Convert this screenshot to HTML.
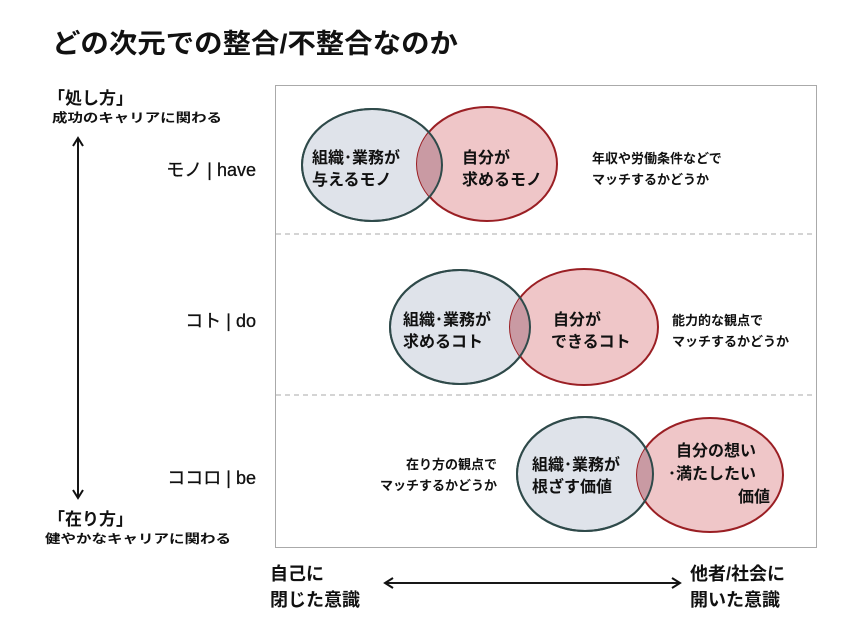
<!DOCTYPE html>
<html><head><meta charset="utf-8"><style>
html,body{margin:0;padding:0;background:#fff;}
svg{display:block;}
text{font-family:"Liberation Sans","Noto Sans CJK JP",sans-serif;fill:#111;}
</style></head><body>
<svg width="860" height="644" viewBox="0 0 860 644" xmlns="http://www.w3.org/2000/svg">
<defs>
<marker id="ah" markerWidth="12" markerHeight="12" refX="9" refY="6" orient="auto" markerUnits="userSpaceOnUse">
<path d="M1,1 L9,6 L1,11" fill="none" stroke="#111" stroke-width="2"/>
</marker>
<clipPath id="c1"><ellipse cx="372" cy="165" rx="70" ry="56"/></clipPath>
<clipPath id="c2"><ellipse cx="460" cy="327" rx="70" ry="57"/></clipPath>
<clipPath id="c3"><ellipse cx="585" cy="474" rx="68" ry="57"/></clipPath>
</defs>
<text x="52" y="53" font-size="27" font-weight="bold" textLength="406" lengthAdjust="spacingAndGlyphs">どの次元での整合/不整合なのか</text>

<rect x="275.5" y="85.5" width="541" height="462" fill="none" stroke="#aaa" stroke-width="1"/>
<line x1="276" y1="234" x2="816" y2="234" stroke="#aaa" stroke-dasharray="5,4"/>
<line x1="276" y1="395" x2="816" y2="395" stroke="#aaa" stroke-dasharray="5,4"/>

<text x="48" y="104" font-size="17" font-weight="bold">「処し方」</text>
<text x="52" y="122" font-size="12.5" font-weight="bold" textLength="170" lengthAdjust="spacingAndGlyphs">成功のキャリアに関わる</text>
<text x="48" y="525" font-size="17" font-weight="bold">「在り方」</text>
<text x="45" y="543" font-size="12.5" font-weight="bold" textLength="186" lengthAdjust="spacingAndGlyphs">健やかなキャリアに関わる</text>
<line x1="78" y1="498" x2="78" y2="138" stroke="#111" stroke-width="1.8" marker-end="url(#ah)"/>
<line x1="78" y1="138" x2="78" y2="498" stroke="#111" stroke-width="1.8" marker-end="url(#ah)"/>

<text x="256" y="176" font-size="18" text-anchor="end" stroke="#111" stroke-width="0.3">モノ | have</text>
<text x="256" y="327" font-size="18" text-anchor="end" stroke="#111" stroke-width="0.3">コト | do</text>
<text x="256" y="484" font-size="18" text-anchor="end" stroke="#111" stroke-width="0.3">ココロ | be</text>

<ellipse cx="372" cy="165" rx="70" ry="56" fill="#dfe3ea" stroke="#2f4a4a" stroke-width="2"/>
<ellipse cx="487" cy="164" rx="70" ry="57" fill="#efc6c8" stroke="#9a1f24" stroke-width="2"/>
<ellipse cx="487" cy="164" rx="70" ry="57" fill="#c99aa3" clip-path="url(#c1)"/>
<ellipse cx="372" cy="165" rx="70" ry="56" fill="none" stroke="#2f4a4a" stroke-width="2"/>
<text x="312" y="163" font-size="16" font-weight="bold">組織･業務が</text>
<text x="312" y="185" font-size="16" font-weight="bold">与えるモノ</text>
<text x="462" y="163" font-size="16" font-weight="bold">自分が</text>
<text x="462" y="185" font-size="16" font-weight="bold">求めるモノ</text>
<text x="592" y="163" font-size="13" font-weight="bold">年収や労働条件などで</text>
<text x="592" y="184" font-size="13" font-weight="bold">マッチするかどうか</text>

<ellipse cx="460" cy="327" rx="70" ry="57" fill="#dfe3ea" stroke="#2f4a4a" stroke-width="2"/>
<ellipse cx="584" cy="327" rx="74" ry="58" fill="#efc6c8" stroke="#9a1f24" stroke-width="2"/>
<ellipse cx="584" cy="327" rx="74" ry="58" fill="#c99aa3" clip-path="url(#c2)"/>
<ellipse cx="460" cy="327" rx="70" ry="57" fill="none" stroke="#2f4a4a" stroke-width="2"/>
<text x="403" y="325" font-size="16" font-weight="bold">組織･業務が</text>
<text x="403" y="347" font-size="16" font-weight="bold">求めるコト</text>
<text x="553" y="325" font-size="16" font-weight="bold">自分が</text>
<text x="551" y="347" font-size="16" font-weight="bold">できるコト</text>
<text x="672" y="325" font-size="13" font-weight="bold">能力的な観点で</text>
<text x="672" y="346" font-size="13" font-weight="bold">マッチするかどうか</text>

<ellipse cx="585" cy="474" rx="68" ry="57" fill="#dfe3ea" stroke="#2f4a4a" stroke-width="2"/>
<ellipse cx="710" cy="475" rx="73" ry="57" fill="#efc6c8" stroke="#9a1f24" stroke-width="2"/>
<ellipse cx="710" cy="475" rx="73" ry="57" fill="#c99aa3" clip-path="url(#c3)"/>
<ellipse cx="585" cy="474" rx="68" ry="57" fill="none" stroke="#2f4a4a" stroke-width="2"/>
<text x="532" y="470" font-size="16" font-weight="bold">組織･業務が</text>
<text x="532" y="492" font-size="16" font-weight="bold">根ざす価値</text>
<text x="676" y="456" font-size="16" font-weight="bold">自分の想い</text>
<text x="668" y="479" font-size="16" font-weight="bold">･満たしたい</text>
<text x="770" y="502" font-size="16" font-weight="bold" text-anchor="end">価値</text>
<text x="497" y="469" font-size="13" font-weight="bold" text-anchor="end">在り方の観点で</text>
<text x="497" y="490" font-size="13" font-weight="bold" text-anchor="end">マッチするかどうか</text>

<text x="270" y="580" font-size="18" font-weight="bold">自己に</text>
<text x="270" y="606" font-size="18" font-weight="bold">閉じた意識</text>
<text x="690" y="580" font-size="18" font-weight="bold">他者/社会に</text>
<text x="690" y="606" font-size="18" font-weight="bold">開いた意識</text>
<line x1="385" y1="583" x2="680" y2="583" stroke="#111" stroke-width="1.8" marker-end="url(#ah)"/>
<line x1="680" y1="583" x2="385" y2="583" stroke="#111" stroke-width="1.8" marker-end="url(#ah)"/>
</svg>
</body></html>
